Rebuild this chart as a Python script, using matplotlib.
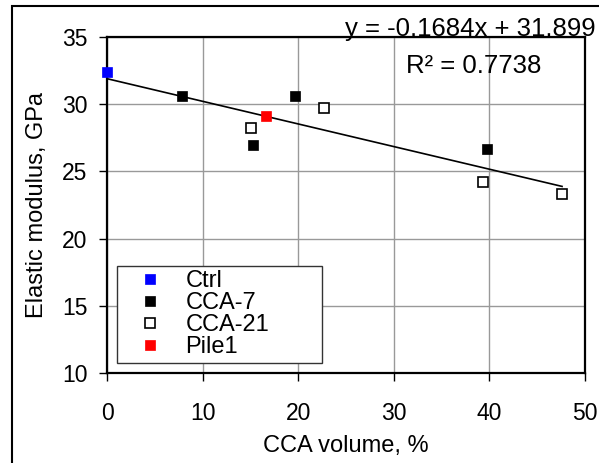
import matplotlib
matplotlib.use("Agg")
import matplotlib.pyplot as plt
from matplotlib.patches import Rectangle
import numpy as np

plt.rcParams['font.family'] = ['Liberation Sans', 'DejaVu Sans']

# Data
ctrl_x = [0.0]
ctrl_y = [32.4]
cca7_x = [7.8, 15.3, 19.7, 39.7]
cca7_y = [30.6, 27.0, 30.6, 26.7]
cca21_x = [15.1, 22.7, 39.3, 47.6]
cca21_y = [28.2, 29.7, 24.2, 23.3]
pile1_x = [16.6]
pile1_y = [29.1]
slope = -0.1684
intercept = 31.899
r2 = 0.7738
xticks = [0, 10, 20, 30, 40, 50]
yticks = [10, 15, 20, 25, 30, 35]

W, H = 599, 463
fig = plt.figure(figsize=(W / 100, H / 100), dpi=100)
ax = fig.add_axes([107 / W, 1 - 373 / H, (585 - 107) / W, (373 - 37) / H])

ax.set_xlim(0, 50)
ax.set_ylim(10, 35)
ax.set_xticks(xticks)
ax.set_yticks(yticks)
ax.grid(True, color='#999999', lw=1.0)
ax.set_axisbelow(True)
for s in ax.spines.values():
    s.set_linewidth(1.6)
    s.set_color('black')
ax.tick_params(direction='out', length=6, width=1.0, labelsize=16.5, color='black')
ax.tick_params(axis='x', pad=15)
ax.tick_params(axis='y', pad=8)

all_x = ctrl_x + cca7_x + cca21_x + pile1_x
xl = np.array([min(all_x), max(all_x)])
ax.plot(xl, slope * xl + intercept, color='black', lw=1.2, zorder=2)

ax.plot(ctrl_x, ctrl_y, 's', color='#0000ff', ms=7.6, mec='#0000ff', mew=0.5, label='Ctrl', zorder=3, clip_on=False)
ax.plot(cca7_x, cca7_y, 's', color='black', ms=7.6, mew=0.5, label='CCA-7', zorder=3)
ax.plot(cca21_x, cca21_y, 's', mfc='white', mec='black', ms=6.8, mew=1.2, label='CCA-21', zorder=3)
ax.plot(pile1_x, pile1_y, 's', color='#ff0000', ms=7.6, mec='#ff0000', mew=0.5, label='Pile1', zorder=3)

ax.set_xlabel('CCA volume, %', fontsize=17, labelpad=7)
ax.set_ylabel('Elastic modulus, GPa', fontsize=17, labelpad=10)

leg = ax.legend(loc='lower left', bbox_to_anchor=(10 / 478, 10 / 336, 205 / 478, 0.3),
                mode='expand', fontsize=17, frameon=True, fancybox=False,
                framealpha=1, edgecolor='#333333', borderpad=0.2, labelspacing=0.0,
                handlelength=2.4, handletextpad=0.3, borderaxespad=0)
leg.get_frame().set_linewidth(1.0)

fig.text(345 / W, 1 - 36 / H, f'y = {slope}x + {intercept}', fontsize=18.5, ha='left', va='baseline')
fig.text(406 / W, 1 - 73 / H, f'R² = {r2}', fontsize=18.5, ha='left', va='baseline')

fig.add_artist(Rectangle((12 / W, -0.1), 1.2, 1.1 - 6.5 / H, transform=fig.transFigure,
                         fill=False, edgecolor='black', lw=1.5))

fig.savefig('out.png', dpi=100)
